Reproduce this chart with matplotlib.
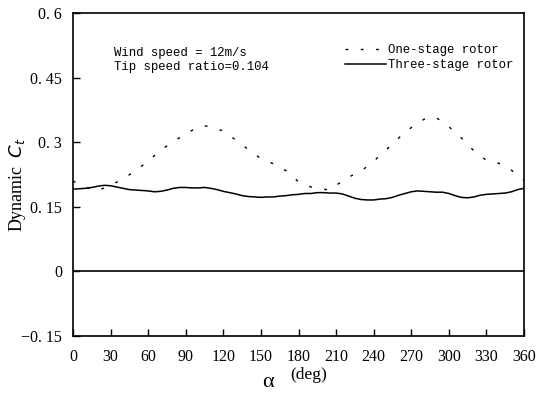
import numpy as np
import matplotlib
matplotlib.use("Agg")
import matplotlib.pyplot as plt
from matplotlib.lines import Line2D

# Data
alpha_three = np.arange(0, 361, 5)
ct_three = [0.191, 0.192, 0.193, 0.195, 0.198, 0.200, 0.199, 0.196, 0.193, 0.190,
            0.189, 0.188, 0.187, 0.185, 0.186, 0.189, 0.193, 0.195, 0.195, 0.194,
            0.194, 0.195, 0.193, 0.190, 0.186, 0.183, 0.180, 0.176, 0.174, 0.173,
            0.172, 0.173, 0.173, 0.175, 0.176, 0.178, 0.179, 0.181, 0.181, 0.183,
            0.183, 0.182, 0.182, 0.180, 0.175, 0.170, 0.167, 0.166, 0.166, 0.168,
            0.169, 0.172, 0.177, 0.181, 0.185, 0.187, 0.186, 0.185, 0.184, 0.184,
            0.181, 0.176, 0.172, 0.171, 0.173, 0.177, 0.179, 0.180, 0.181, 0.182,
            0.185, 0.190, 0.193]

alpha_one = [0, 10, 20, 30, 40, 50, 60, 70, 80, 90, 100, 105, 110, 120, 130, 140,
             150, 160, 170, 180, 190, 200, 205, 210, 220, 230, 240, 250, 260, 270,
             280, 285, 290, 300, 310, 320, 330, 340, 350, 360]
ct_one = [0.210, 0.195, 0.188, 0.200, 0.215, 0.234, 0.256, 0.282, 0.301, 0.320,
          0.335, 0.338, 0.336, 0.326, 0.305, 0.283, 0.262, 0.250, 0.234, 0.208,
          0.196, 0.191, 0.189, 0.200, 0.219, 0.233, 0.256, 0.282, 0.310, 0.334,
          0.353, 0.358, 0.357, 0.336, 0.310, 0.280, 0.258, 0.251, 0.235, 0.212]

xticks = list(range(0, 361, 30))
yticks = [-0.15, 0, 0.15, 0.3, 0.45, 0.6]
ytick_labels = ["\u22120. 15", "0", "0. 15", "0. 3", "0. 45", "0. 6"]

serif = "Liberation Serif"
mono = "Liberation Mono"

fig = plt.figure(figsize=(5.38, 3.94), dpi=100)
ax = fig.add_axes([0.1357, 0.147, 0.8383, 0.820])

ax.plot(alpha_one, ct_one, color="black", lw=1.0, dashes=(2, 9))
ax.plot(alpha_three, ct_three, color="black", lw=1.1)
ax.axhline(0, color="black", lw=1.2)

ax.set_xlim(0, 360)
ax.set_ylim(-0.15, 0.6)
ax.set_xticks(xticks)
ax.set_xticklabels([str(t) for t in xticks], fontfamily=serif, fontsize=11.5)
ax.set_yticks(yticks)
ax.set_yticklabels(ytick_labels, fontfamily=serif, fontsize=11.5)
ax.tick_params(direction="in", length=5, width=1)
ax.tick_params(axis="x", pad=9)
ax.tick_params(axis="y", pad=8)
for sp in ax.spines.values():
    sp.set_linewidth(1.2)

ax.text(0.092, 0.895, "Wind speed = 12m/s\nTip speed ratio=0.104",
        transform=ax.transAxes, fontfamily=mono, fontsize=8.9,
        va="top", ha="left", linespacing=1.2)

handles = [Line2D([], [], color="black", lw=1.0, dashes=(2, 9)),
           Line2D([], [], color="black", lw=1.1)]
ax.legend(handles, ["One-stage rotor", "Three-stage rotor"], loc="upper right",
          bbox_to_anchor=(1.0, 0.937), frameon=False, handlelength=3.3,
          handletextpad=0.15, labelspacing=0.2,
          prop={"family": mono, "size": 8.9})

ax.set_ylabel("Dynamic  $C_t$", fontfamily=serif, fontsize=13)
ax.yaxis.set_label_coords(-0.1, 0.47)

fig.text(0.498, 0.005, "\u03b1", fontfamily=serif, fontsize=16, ha="center", va="bottom")
fig.text(0.54, 0.027, "(deg)", fontfamily=serif, fontsize=12.5, ha="left", va="bottom")

fig.savefig("out.png", dpi=100)
